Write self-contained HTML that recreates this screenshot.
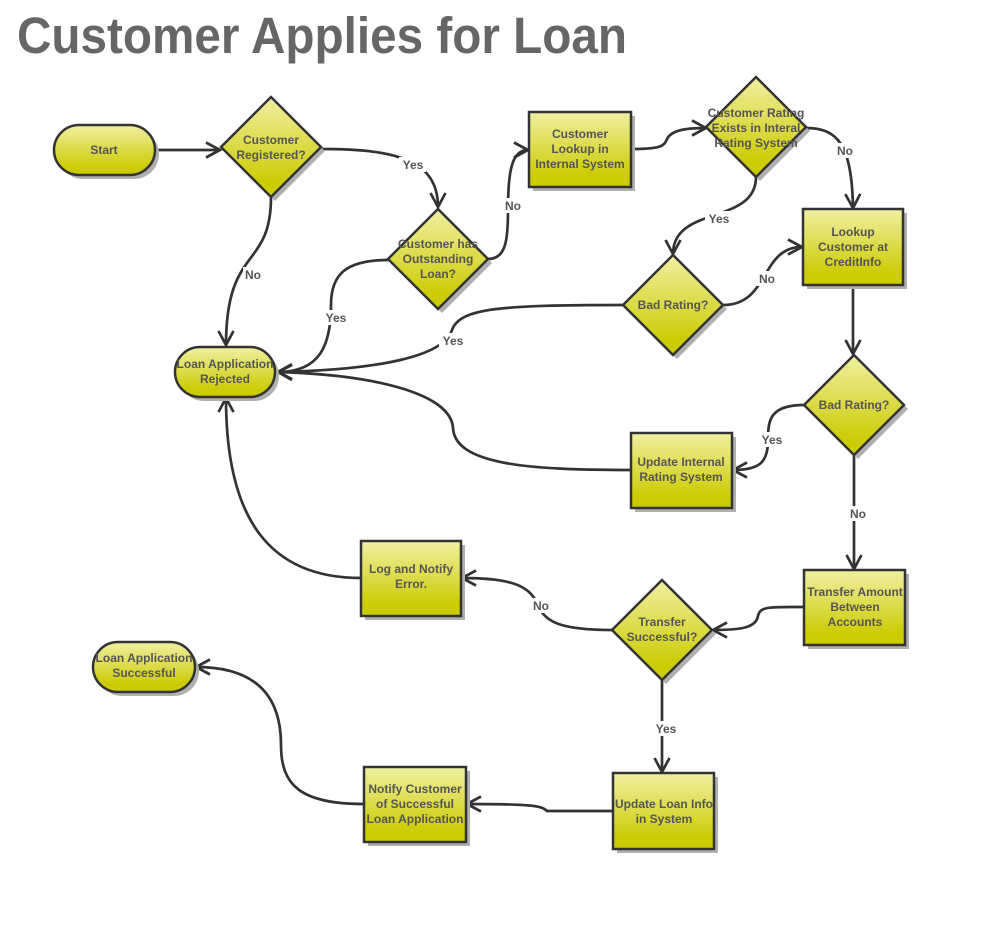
<!DOCTYPE html>
<html>
<head>
<meta charset="utf-8">
<style>
  html,body{margin:0;padding:0;background:#fff;}
  svg{display:block;}
  .t{font-family:"Liberation Sans",Arial,sans-serif;font-weight:bold;font-size:12px;fill:#555;text-anchor:middle;}
  .l{font-family:"Liberation Sans",Arial,sans-serif;font-weight:bold;font-size:12px;fill:#555;text-anchor:middle;}
  .c{fill:none;stroke:#333;stroke-width:2.7;marker-end:url(#a);}
  .n{stroke:#333;stroke-width:2.5;fill:url(#g);}
  .s{fill:#b0b0b0;}
</style>
</head>
<body>
<svg width="1005" height="949" viewBox="0 0 1005 949" xmlns="http://www.w3.org/2000/svg">
  <defs>
    <linearGradient id="g" x1="0" y1="0" x2="0" y2="1">
      <stop offset="0" stop-color="#f0f0a2"/>
      <stop offset="0.85" stop-color="#cccc05"/>
      <stop offset="1" stop-color="#cbcb00"/>
    </linearGradient>
    <marker id="a" markerUnits="userSpaceOnUse" markerWidth="24" markerHeight="24" viewBox="-18 -12 24 24" refX="0" refY="0" orient="auto">
      <path d="M-14,-7.5 L0,0 L-14,7.5" fill="none" stroke="#333" stroke-width="2.7"/>
    </marker>
  </defs>

  <text x="17" y="53" font-family="Liberation Sans, Arial, sans-serif" font-weight="bold" font-size="51" fill="#666" textLength="610" lengthAdjust="spacingAndGlyphs">Customer Applies for Loan</text>

  <!-- connectors -->
  <path class="c" d="M155,150 L220,150"/>
  <path class="c" d="M321,149 C392,149 438,158 438,207"/>
  <path class="c" d="M271,197 C271,270 226,245 226,345"/>
  <path class="c" d="M388,260 C345,260 331,275 331,305 C331,345 320,372 278,372"/>
  <path class="c" d="M488,259 C506,259 508,240 508,210 C508,170 512,150 528,150"/>
  <path class="c" d="M631,149 C662,149 664,146 667,139 C672,129 690,128 706,128"/>
  <path class="c" d="M806,128 C838,128 852,145 853,208"/>
  <path class="c" d="M756,177 C756,225 673,205 673,254"/>
  <path class="c" d="M723,305 C770,305 760,247 802,247"/>
  <path class="c" d="M623,305 C500,305 460,308 452,330 C444,356 380,370 278,372"/>
  <path class="c" d="M631,470 C530,470 455,465 453,428 C451,395 380,375 278,372"/>
  <path class="c" d="M853,285 L853,354"/>
  <path class="c" d="M804,405 C770,405 768,420 768,440 C768,462 760,470 733,470"/>
  <path class="c" d="M854,454 L854,569"/>
  <path class="c" d="M804,607 C770,607 760,606 758,616 C756,628 740,630 713,630"/>
  <path class="c" d="M613,630 C560,630 545,622 538,605 C530,585 510,578 462,578"/>
  <path class="c" d="M662,678 L662,772"/>
  <path class="c" d="M613,811 L547,811 C542,806 535,804 467,804"/>
  <path class="c" d="M364,804 C300,804 281,785 281,745 C281,700 260,667 196,667"/>
  <path class="c" d="M361,578 C270,578 226,520 226,398"/>

  <!-- labels -->
  <g>
    <rect x="399" y="157" width="27" height="15" fill="#fff"/><text class="l" x="413" y="169">Yes</text>
    <rect x="243" y="267" width="21" height="15" fill="#fff"/><text class="l" x="253" y="279">No</text>
    <rect x="322" y="310" width="28" height="15" fill="#fff"/><text class="l" x="336" y="322">Yes</text>
    <rect x="503" y="198" width="21" height="15" fill="#fff"/><text class="l" x="513" y="210">No</text>
    <rect x="835" y="143" width="21" height="15" fill="#fff"/><text class="l" x="845" y="155">No</text>
    <rect x="705" y="211" width="28" height="15" fill="#fff"/><text class="l" x="719" y="223">Yes</text>
    <rect x="757" y="271" width="21" height="15" fill="#fff"/><text class="l" x="767" y="283">No</text>
    <rect x="439" y="333" width="28" height="15" fill="#fff"/><text class="l" x="453" y="345">Yes</text>
    <rect x="758" y="432" width="28" height="15" fill="#fff"/><text class="l" x="772" y="444">Yes</text>
    <rect x="848" y="506" width="21" height="15" fill="#fff"/><text class="l" x="858" y="518">No</text>
    <rect x="531" y="598" width="21" height="15" fill="#fff"/><text class="l" x="541" y="610">No</text>
    <rect x="652" y="721" width="28" height="15" fill="#fff"/><text class="l" x="666" y="733">Yes</text>
  </g>

  <!-- Start pill -->
  <rect class="s" x="58" y="129" width="101" height="50" rx="25"/>
  <rect class="n" x="54" y="125" width="101" height="50" rx="25"/>
  <text class="t" x="104" y="154">Start</text>

  <!-- Diamond: Customer Registered? -->
  <polygon class="s" points="275,101 325,151 275,201 225,151"/>
  <polygon class="n" points="271,97 321,147 271,197 221,147"/>
  <text class="t" x="271" y="144">Customer</text>
  <text class="t" x="271" y="159">Registered?</text>

  <!-- Diamond: Outstanding -->
  <polygon class="s" points="442,213 492,263 442,313 392,263"/>
  <polygon class="n" points="438,209 488,259 438,309 388,259"/>
  <text class="t" x="438" y="248">Customer has</text>
  <text class="t" x="438" y="263">Outstanding</text>
  <text class="t" x="438" y="278">Loan?</text>

  <!-- Rect: Customer Lookup -->
  <rect class="s" x="533" y="116" width="102" height="75"/>
  <rect class="n" x="529" y="112" width="102" height="75"/>
  <text class="t" x="580" y="138">Customer</text>
  <text class="t" x="580" y="153">Lookup in</text>
  <text class="t" x="580" y="168">Internal System</text>

  <!-- Diamond: Rating exists -->
  <polygon class="s" points="760,81 810,131 760,181 710,131"/>
  <polygon class="n" points="756,77 806,127 756,177 706,127"/>
  <text class="t" x="756" y="117">Customer Rating</text>
  <text class="t" x="756" y="132">Exists in Interal</text>
  <text class="t" x="756" y="147">Rating System</text>

  <!-- Rect: Lookup CreditInfo -->
  <rect class="s" x="807" y="213" width="100" height="76"/>
  <rect class="n" x="803" y="209" width="100" height="76"/>
  <text class="t" x="853" y="236">Lookup</text>
  <text class="t" x="853" y="251">Customer at</text>
  <text class="t" x="853" y="266">CreditInfo</text>

  <!-- Diamond: Bad Rating 1 -->
  <polygon class="s" points="677,259 727,309 677,359 627,309"/>
  <polygon class="n" points="673,255 723,305 673,355 623,305"/>
  <text class="t" x="673" y="309">Bad Rating?</text>

  <!-- Rect: Loan Application Rejected pill -->
  <rect class="s" x="179" y="351" width="100" height="50" rx="25"/>
  <rect class="n" x="175" y="347" width="100" height="50" rx="25"/>
  <text class="t" x="225" y="368">Loan Application</text>
  <text class="t" x="225" y="383">Rejected</text>

  <!-- Diamond: Bad Rating 2 -->
  <polygon class="s" points="858,359 908,409 858,459 808,409"/>
  <polygon class="n" points="854,355 904,405 854,455 804,405"/>
  <text class="t" x="854" y="409">Bad Rating?</text>

  <!-- Rect: Update Internal Rating -->
  <rect class="s" x="635" y="437" width="101" height="75"/>
  <rect class="n" x="631" y="433" width="101" height="75"/>
  <text class="t" x="681" y="466">Update Internal</text>
  <text class="t" x="681" y="481">Rating System</text>

  <!-- Rect: Transfer Amount -->
  <rect class="s" x="808" y="574" width="101" height="75"/>
  <rect class="n" x="804" y="570" width="101" height="75"/>
  <text class="t" x="855" y="596">Transfer Amount</text>
  <text class="t" x="855" y="611">Between</text>
  <text class="t" x="855" y="626">Accounts</text>

  <!-- Diamond: Transfer Successful -->
  <polygon class="s" points="666,584 716,634 666,684 616,634"/>
  <polygon class="n" points="662,580 712,630 662,680 612,630"/>
  <text class="t" x="662" y="626">Transfer</text>
  <text class="t" x="662" y="641">Successful?</text>

  <!-- Rect: Log and Notify Error -->
  <rect class="s" x="365" y="545" width="100" height="75"/>
  <rect class="n" x="361" y="541" width="100" height="75"/>
  <text class="t" x="411" y="573">Log and Notify</text>
  <text class="t" x="411" y="588">Error.</text>

  <!-- Pill: Loan Application Successful -->
  <rect class="s" x="97" y="646" width="102" height="50" rx="25"/>
  <rect class="n" x="93" y="642" width="102" height="50" rx="25"/>
  <text class="t" x="144" y="662">Loan Application</text>
  <text class="t" x="144" y="677">Successful</text>

  <!-- Rect: Update Loan Info -->
  <rect class="s" x="617" y="777" width="101" height="76"/>
  <rect class="n" x="613" y="773" width="101" height="76"/>
  <text class="t" x="664" y="808">Update Loan Info</text>
  <text class="t" x="664" y="823">in System</text>

  <!-- Rect: Notify Customer -->
  <rect class="s" x="368" y="771" width="102" height="75"/>
  <rect class="n" x="364" y="767" width="102" height="75"/>
  <text class="t" x="415" y="793">Notify Customer</text>
  <text class="t" x="415" y="808">of Successful</text>
  <text class="t" x="415" y="823">Loan Application</text>
</svg>
</body>
</html>
